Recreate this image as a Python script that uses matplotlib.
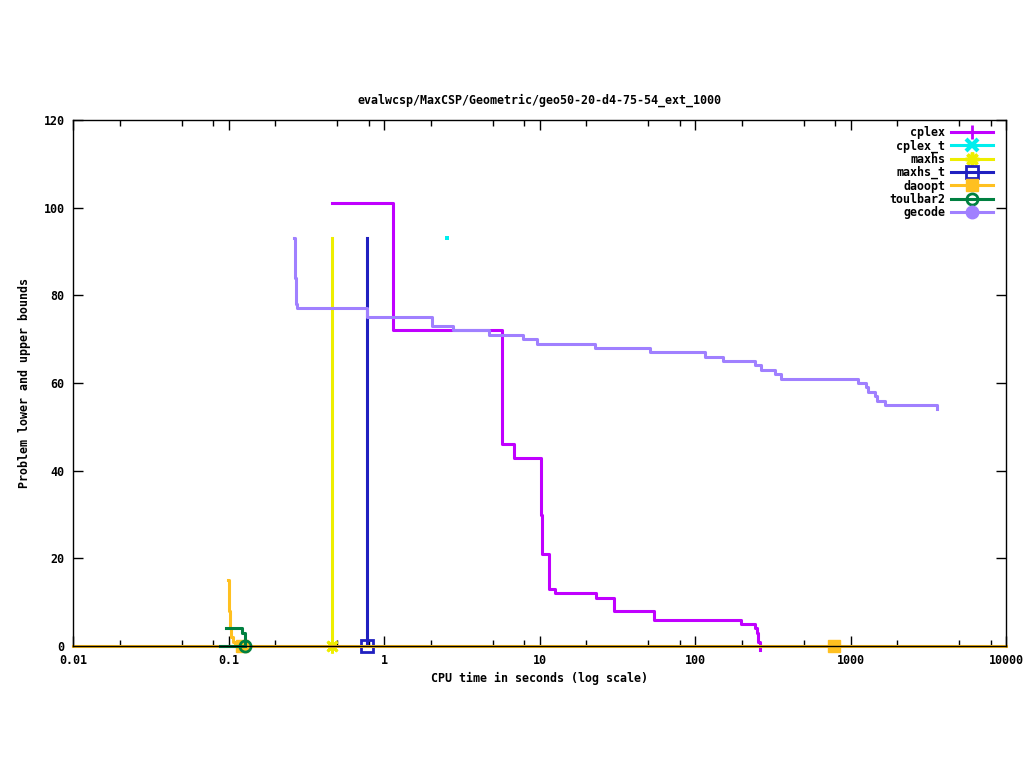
import matplotlib
matplotlib.use('Agg')
import matplotlib.pyplot as plt
from matplotlib.lines import Line2D
from matplotlib.ticker import FixedLocator, NullFormatter, FixedFormatter

plt.rcParams['font.family'] = ['DejaVu Sans Mono']
plt.rcParams['font.weight'] = 'bold'

# datos (tiempo en segundos, cota)
cplex_t = [0.4645, 1.14, 5.74, 6.86, 10.2, 10.4, 11.5, 12.6, 23.1, 30.1, 54.5, 198, 243, 250, 256, 260]
cplex_v = [101, 72, 46, 43, 30, 21, 13, 12, 11, 8, 6, 5, 4, 3, 1, -1]

cplext_t = [2.54]
cplext_v = [93]

maxhs_t = [0.4655, 0.4655]
maxhs_v = [93, 0]

maxhst_t = [0.781, 0.781]
maxhst_v = [93, 0]

daoopt_t = [0.0993, 0.1003, 0.1015, 0.1030, 0.1040, 0.1075, 0.1100]
daoopt_v = [15, 8, 7, 4, 2, 1, 0]
daoopt_lb_t = [0.01, 10000]
daoopt_lb_v = [0, 0]
daoopt_pts_t = [0.122, 783]
daoopt_pts_v = [0, 0]

toulbar_t = [0.0964, 0.1216, 0.1277]
toulbar_v = [4, 3, 0]
toulbar_lb_t = [0.0884, 0.1277]
toulbar_lb_v = [0, 0]

gecode_t = [0.2657, 0.2672, 0.2690, 0.2705, 0.2725, 0.2745, 0.778, 2.04, 2.78, 4.73, 7.83, 9.64,
            22.7, 51.4, 116, 152, 243, 265, 327, 356, 1117, 1259, 1297, 1438, 1479, 1667, 3597]
gecode_v = [93, 88, 84, 82, 78, 77, 75, 73, 72, 71, 70, 69,
            68, 67, 66, 65, 64, 63, 62, 61, 60, 59, 58, 57, 56, 55, 54]

# colores
c_cplex = '#c000ff'
c_cplext = '#00eeee'
c_maxhs = '#eeee00'
c_maxhst = '#2020c0'
c_daoopt = '#ffc020'
c_toulbar = '#008040'
c_gecode = '#a080ff'

fig = plt.figure(figsize=(10.24, 7.68), dpi=100)
ax = fig.add_axes([73 / 1024, 1 - 646 / 768, 933 / 1024, 526 / 768])

lw = 2.2
ax.plot(cplex_t, cplex_v, color=c_cplex, lw=lw, drawstyle='steps-post', clip_on=False)
ax.plot(cplext_t, cplext_v, color=c_cplext, ls='none', marker='s', ms=2.2, mew=0)
ax.plot(maxhs_t, maxhs_v, color=c_maxhs, lw=lw)
ax.plot(maxhs_t[-1:], maxhs_v[-1:], color=c_maxhs, ls='none', marker=(8, 2, 0), ms=10, mew=2, clip_on=False)
ax.plot(maxhst_t, maxhst_v, color=c_maxhst, lw=lw)
ax.plot(maxhst_t[-1:], maxhst_v[-1:], color=c_maxhst, ls='none', marker='s', ms=8, mew=2,
        mfc='none', clip_on=False)
ax.plot(daoopt_t, daoopt_v, color=c_daoopt, lw=lw, drawstyle='steps-post')
ax.plot(daoopt_pts_t, daoopt_pts_v, color=c_daoopt, ls='none', marker='s', ms=9, clip_on=False)
ax.plot(daoopt_lb_t, daoopt_lb_v, color=c_daoopt, lw=lw, clip_on=False)
ax.plot(toulbar_t, toulbar_v, color=c_toulbar, lw=lw, drawstyle='steps-post')
ax.plot(toulbar_lb_t, toulbar_lb_v, color=c_toulbar, lw=lw, clip_on=False)
ax.plot(toulbar_t[-1:], toulbar_v[-1:], color=c_toulbar, ls='none', marker='o', ms=8, mew=2,
        mfc='none', clip_on=False)
ax.plot(gecode_t, gecode_v, color=c_gecode, lw=lw, drawstyle='steps-post')

ax.set_xscale('log')
ax.set_xlim(0.01, 10000)
ax.set_ylim(0, 120)

# ticks estilo gnuplot: hacia dentro y en los cuatro lados
major = [0.01, 0.1, 1, 10, 100, 1000, 10000]
minor = [m * d for d in [0.01, 0.1, 1, 10, 100, 1000] for m in (2, 5, 8)]
ax.xaxis.set_major_locator(FixedLocator(major))
ax.xaxis.set_major_formatter(FixedFormatter(['0.01', '0.1', '1', '10', '100', '1000', '10000']))
ax.xaxis.set_minor_locator(FixedLocator(minor))
ax.xaxis.set_minor_formatter(NullFormatter())
ax.set_yticks([0, 20, 40, 60, 80, 100, 120])
ax.tick_params(which='both', direction='in', top=True, right=True, labelsize=8.4, width=1)
ax.tick_params(which='major', length=7)
ax.tick_params(which='minor', length=4)
ax.tick_params(axis='x', pad=6)
ax.tick_params(axis='y', pad=6)
for sp in ax.spines.values():
    sp.set_linewidth(1)
    sp.set_zorder(10)

fig.text(539.5 / 1024, 1 - 100 / 768, 'evalwcsp/MaxCSP/Geometric/geo50-20-d4-75-54_ext_1000',
         ha='center', va='center', fontsize=8.4)
fig.text(539.5 / 1024, 1 - 678 / 768, 'CPU time in seconds (log scale)',
         ha='center', va='center', fontsize=8.4)
fig.text(25 / 1024, 1 - 383 / 768, 'Problem lower and upper bounds',
         ha='center', va='center', rotation=90, fontsize=8.4)

# leyenda
handles = [
    Line2D([], [], color=c_cplex, lw=lw, marker='+', ms=10, mew=2),
    Line2D([], [], color=c_cplext, lw=lw, marker='x', ms=9, mew=3),
    Line2D([], [], color=c_maxhs, lw=lw, marker=(8, 2, 0), ms=10, mew=2.5),
    Line2D([], [], color=c_maxhst, lw=lw, marker='s', ms=8, mew=2, mfc='none'),
    Line2D([], [], color=c_daoopt, lw=lw, marker='s', ms=9),
    Line2D([], [], color=c_toulbar, lw=lw, marker='o', ms=8, mew=2, mfc='none'),
    Line2D([], [], color=c_gecode, lw=lw, marker='o', ms=9),
]
labels = ['cplex', 'cplex_t', 'maxhs', 'maxhs_t', 'daoopt', 'toulbar2', 'gecode']
ax.legend(handles, labels, loc='upper right', bbox_to_anchor=(993 / 1024, 1 - 126 / 768),
          bbox_transform=fig.transFigure, frameon=False, markerfirst=False,
          handlelength=3.6, handletextpad=0.5, labelspacing=0.02, handleheight=0.7,
          borderpad=0, borderaxespad=0, prop={'size': 8.4, 'weight': 'bold'})

fig.savefig('out.png', dpi=100)
